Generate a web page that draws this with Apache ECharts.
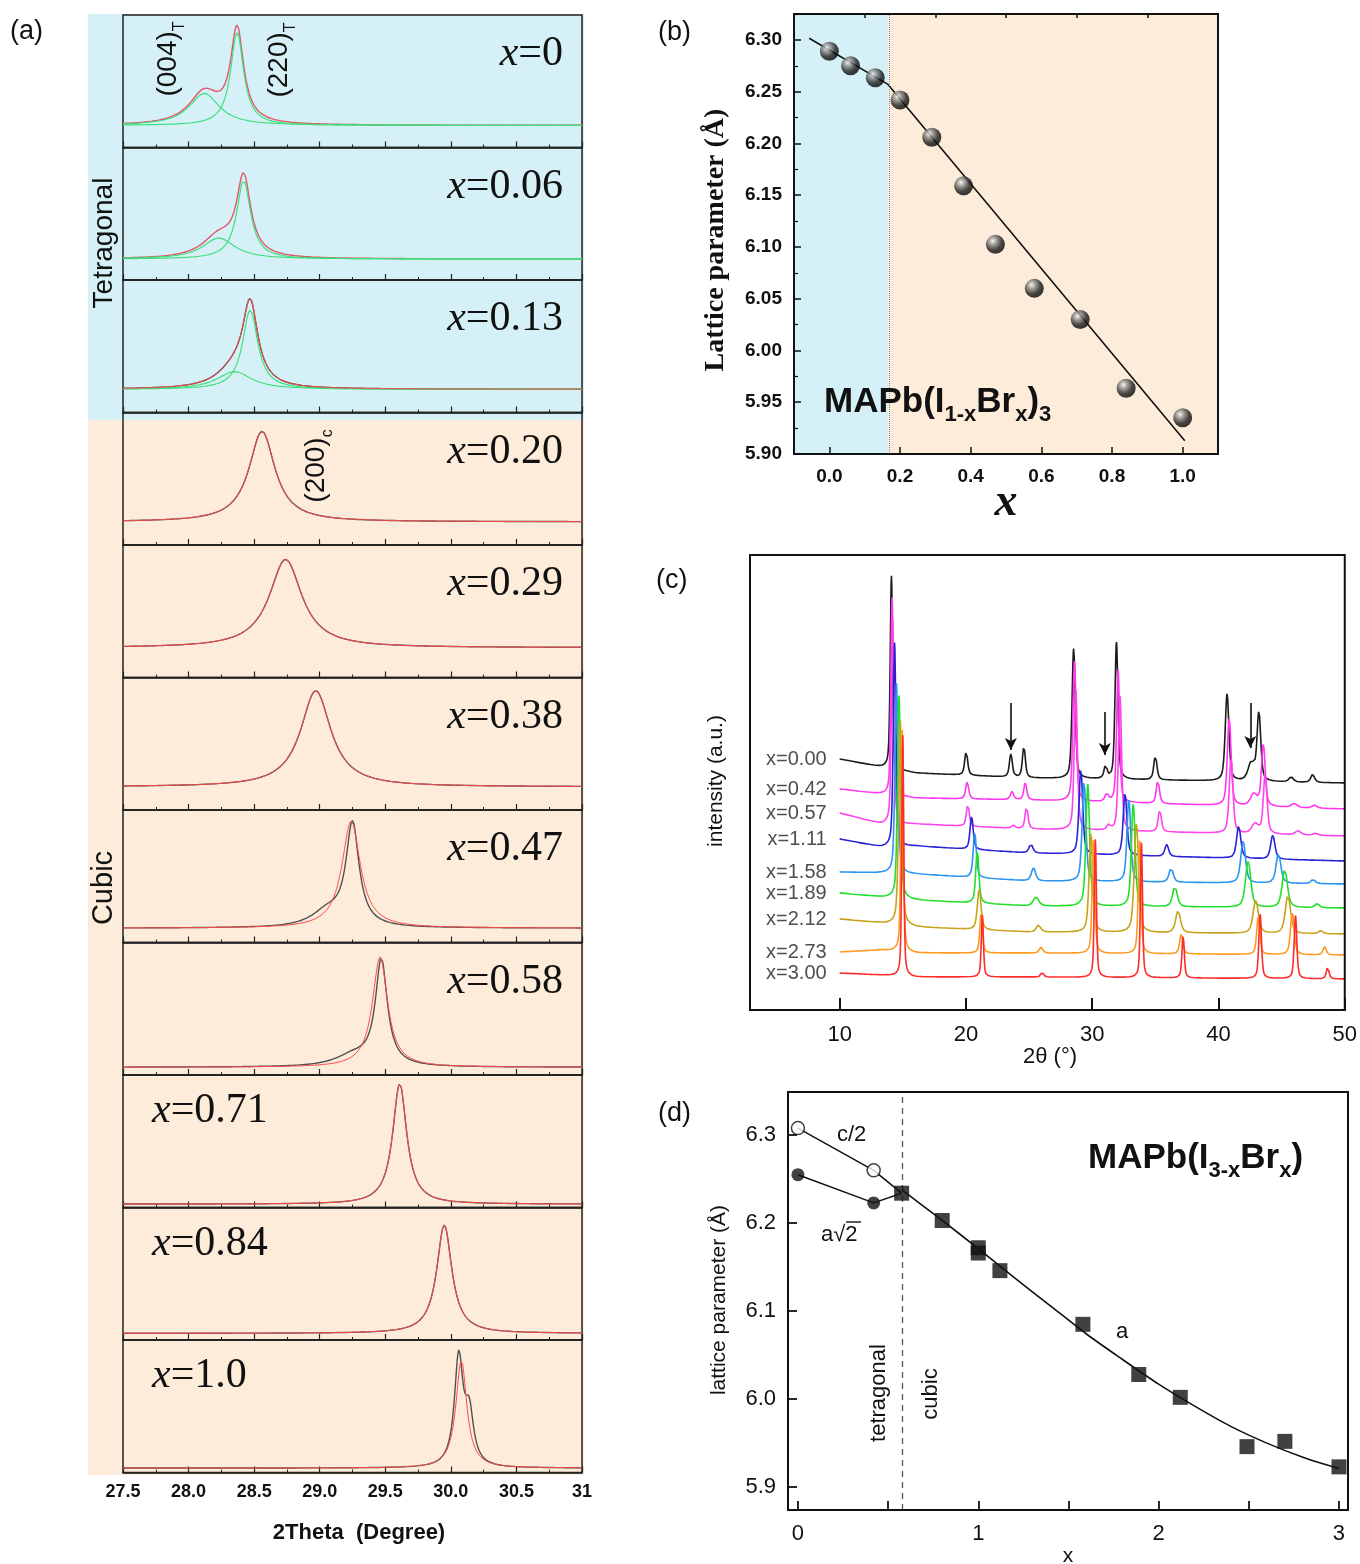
<!DOCTYPE html>
<html>
<head>
<meta charset="utf-8">
<script src="https://cdn.jsdelivr.net/npm/echarts@6/dist/echarts.min.js"></script>
<style>
  html, body { margin: 0; padding: 0; background: #ffffff; }
  #chart { width: 1360px; height: 1564px; }
</style>
</head>
<body>
<div id="chart"></div>
<script>
// ---------------- panel (a): (004)/(220) tetragonal and (200) cubic reflections ----------------
const compA = ['0', '0.06', '0.13', '0.20', '0.29', '0.38', '0.47', '0.58', '0.71', '0.84', '1.0'];
const thetaTicksA = [27.5, 28.0, 28.5, 29.0, 29.5, 30.0, 30.5, 31.0];
// background level of each pattern
const baseA = [0.0, -0.01, 0.01, 0.01, 0.07, 0.01, -0.07, -0.13, -0.17, -0.14, -0.16];
// Lorentzian fit components: [centre (deg), FWHM (deg), height]
const fitA = [
  [[28.12, 0.28, 0.29], [28.37, 0.12, 0.84]],
  [[28.23, 0.30, 0.19], [28.42, 0.13, 0.71]],
  [[28.35, 0.32, 0.16], [28.47, 0.14, 0.72]],
  [[28.56, 0.24, 0.82]],
  [[28.74, 0.30, 0.80]],
  [[28.97, 0.28, 0.87]],
  [[29.24, 0.17, 0.97]],
  [[29.46, 0.14, 1.00]],
  [[29.61, 0.13, 1.09]],
  [[29.95, 0.14, 0.98]],
  [[30.08, 0.10, 0.98]]
];
// measured profiles that differ from the single-peak fit (shoulders, Ka2)
const obsA = [null, null, null, null, null, null,
  [[29.06, 0.30, 0.14], [29.25, 0.12, 0.92]],
  [[29.26, 0.34, 0.10], [29.47, 0.11, 0.95]],
  null, null,
  [[30.06, 0.08, 0.98], [30.14, 0.08, 0.45]]
];

// ---------------- panel (b): lattice parameter vs x ----------------
const xB = [0, 0.06, 0.13, 0.20, 0.29, 0.38, 0.47, 0.58, 0.71, 0.84, 1.0];
const aB = [6.289, 6.275, 6.2635, 6.242, 6.206, 6.159, 6.1025, 6.060, 6.030, 5.9635, 5.935];
// linear trends in the tetragonal and cubic ranges, meeting at the phase edge
const fitLineB = [[-0.057, 6.3016], [0.166, 6.257], [1.006, 5.9128]];
const phaseEdgeB = 0.166;
const xTicksB = [0, 0.2, 0.4, 0.6, 0.8, 1.0];
const xMinorB = [0.1, 0.3, 0.5, 0.7, 0.9];

// ---------------- panel (c): powder patterns MAPb(I3-xBrx) ----------------
const compC = ['x=0.00', 'x=0.42', 'x=0.57', 'x=1.11', 'x=1.58', 'x=1.89', 'x=2.12', 'x=2.73', 'x=3.00'];
const xTicksC = [10, 20, 30, 40, 50];
// background (stacked offset) of each pattern at these angles
const bgAnglesC = [10, 13.3, 16, 25, 50];
const bgC = [
  [251, 243, 237, 232, 227],
  [221, 216, 212, 210, 201],
  [197, 186, 186, 181, 174],
  [171, 163, 164, 157, 149],
  [138, 137, 136, 129, 126],
  [117, 113, 110, 104, 102],
  [91, 87, 83, 78, 76],
  [58, 60, 57, 57, 55],
  [37, 35, 33, 33, 31]
];
// reflections: [2theta (deg), height, FWHM (deg)]
const peaksC = [
  [[14.10, 193, 0.22], [20.02, 24, 0.28], [23.56, 23, 0.28], [24.59, 31, 0.28], [28.53, 130, 0.30], [31.06, 13, 0.28], [31.92, 137, 0.28], [35.00, 24, 0.30], [40.68, 87, 0.35], [42.60, 18, 0.60], [43.20, 68, 0.35], [45.75, 5, 0.40], [47.46, 8, 0.35]],
  [[14.15, 198, 0.22], [20.10, 17, 0.28], [23.65, 8, 0.30], [24.70, 17, 0.28], [28.60, 140, 0.30], [31.15, 8, 0.30], [32.05, 133, 0.28], [35.20, 23, 0.30], [40.85, 88, 0.35], [42.80, 12, 0.60], [43.55, 62, 0.35], [46.00, 4, 0.50], [47.60, 3, 0.40]],
  [[14.20, 205, 0.24], [20.15, 22, 0.28], [23.75, 3, 0.30], [24.80, 22, 0.28], [28.70, 140, 0.30], [31.30, 5, 0.30], [32.20, 135, 0.30], [35.35, 22, 0.30], [41.00, 75, 0.35], [42.90, 10, 0.60], [43.70, 60, 0.35], [46.30, 4, 0.50], [47.70, 2, 0.40]],
  [[14.35, 204, 0.25], [20.45, 33, 0.30], [25.15, 9, 0.35], [29.10, 85, 0.35], [32.60, 62, 0.35], [35.90, 12, 0.35], [41.60, 32, 0.40], [44.30, 24, 0.40]],
  [[14.50, 190, 0.28], [20.70, 45, 0.30], [25.35, 13, 0.40], [29.35, 100, 0.35], [32.90, 83, 0.35], [36.25, 14, 0.40], [41.95, 42, 0.45], [44.75, 30, 0.45], [47.50, 4, 0.40]],
  [[14.70, 203, 0.28], [20.90, 52, 0.30], [25.55, 9, 0.50], [29.65, 122, 0.35], [33.25, 104, 0.35], [36.55, 20, 0.45], [42.35, 46, 0.50], [45.25, 38, 0.50], [47.80, 4, 0.40]],
  [[14.80, 205, 0.30], [21.05, 40, 0.35], [25.75, 7, 0.40], [29.90, 100, 0.35], [33.50, 110, 0.40], [36.80, 22, 0.45], [42.95, 33, 0.50], [45.50, 38, 0.50], [48.10, 3, 0.40]],
  [[14.95, 222, 0.22], [21.20, 40, 0.25], [25.95, 6, 0.30], [30.10, 113, 0.25], [33.75, 113, 0.25], [37.05, 20, 0.30], [43.15, 38, 0.30], [45.85, 42, 0.35], [48.40, 8, 0.30]],
  [[15.00, 241, 0.18], [21.30, 62, 0.20], [26.05, 5, 0.25], [30.25, 138, 0.20], [33.90, 135, 0.20], [37.20, 43, 0.22], [43.30, 64, 0.25], [46.10, 63, 0.25], [48.65, 12, 0.25]]
];
// impurity markers: [2theta, tail level, tip level]
const arrowsC = [[23.56, 307, 260], [31.00, 298, 255], [42.52, 307, 262]];

// ---------------- panel (d): lattice parameters, tetragonal/cubic ----------------
const xTet = [0, 0.42];
const halfC = [6.308, 6.260];     // c/2
const aRoot2 = [6.255, 6.223];    // a/sqrt2 (pseudo-cubic)
const xCubic = [0.575, 0.80, 1.0, 1.0, 1.12, 1.58, 1.89, 2.12, 2.49, 2.70, 3.0];
const aCubic = [6.234, 6.203, 6.172, 6.166, 6.146, 6.085, 6.028, 6.002, 5.946, 5.952, 5.923];
const curveX = [0.575, 0.8, 1.0, 1.2, 1.4, 1.6, 1.8, 2.0, 2.2, 2.4, 2.6, 2.8, 3.0];
const curveA = [6.238, 6.203, 6.171, 6.138, 6.106, 6.074, 6.045, 6.017, 5.992, 5.969, 5.950, 5.934, 5.921];
const phaseEdgeD = 0.58;
const xTicksD = [0, 1, 2, 3];
const xTickMarksD = [0, 0.5, 1, 1.5, 2, 2.5, 3];
const yTicksD = [5.9, 6.0, 6.1, 6.2, 6.3];

// ---------------- drawing ----------------
const SANS = '"Liberation Sans", Arial, sans-serif';
const SERIF = '"Liberation Serif", "Times New Roman", serif';
const BLUE = '#d5f1f7';
const PEACH = '#fdecda';

function lor(t, p) {
  const u = (t - p[0]) / (p[1] / 2);
  return p[2] / (1 + u * u);
}
function pv(t, p) {
  const u = (t - p[0]) / (p[2] / 2);
  const g = Math.exp(-Math.LN2 * u * u);
  return p[1] * (0.5 / (1 + u * u) + 0.5 * g);
}
function bgAt(row, t) {
  for (let k = 0; k < bgAnglesC.length - 1; k++) {
    const a0 = bgAnglesC[k], a1 = bgAnglesC[k + 1];
    if (t <= a1) return row[k] + (row[k + 1] - row[k]) * (t - a0) / (a1 - a0);
  }
  return row[row.length - 1];
}

const grids = [], xAxes = [], yAxes = [], series = [], graphics = [];

// panel (a) layout
const A_LEFT = 123, A_RIGHT = 582, A_TOP = 15, A_H = 132.5;
const thetaGrid = [];
for (let k = 0; k <= 700; k++) thetaGrid.push(27.5 + k * 0.005);

compA.forEach((c, i) => {
  grids.push({ left: A_LEFT, top: A_TOP + i * A_H, width: A_RIGHT - A_LEFT, height: A_H,
    show: true, borderColor: '#222', borderWidth: 1.5, backgroundColor: 'transparent', z: 3 });
  const last = i === compA.length - 1;
  xAxes.push({ gridIndex: i, type: 'value', min: 27.5, max: 31, interval: 0.5,
    axisLine: { show: true, onZero: false, lineStyle: { color: '#222', width: 1.5 } },
    axisTick: { show: true, inside: true, length: 6, lineStyle: { color: '#222', width: 1.2 } },
    minorTick: { show: true, splitNumber: 2, length: 3, lineStyle: { color: '#222', width: 1 } },
    splitLine: { show: false },
    axisLabel: { show: last, margin: 11, fontFamily: SANS, fontWeight: 'bold', fontSize: 18, color: '#111',
      showMinLabel: true, showMaxLabel: true,
      formatter: v => (Math.abs(v - 31) < 1e-6 ? '31' : v.toFixed(1)) } });
  yAxes.push({ gridIndex: i, type: 'value', min: -0.2, max: 1.0, show: false });

  const comps = fitA[i];
  const obs = obsA[i] || comps;
  const base = baseA[i];
  const dataLine = thetaGrid.map(t => [t, base + obs.reduce((s, p) => s + lor(t, p), 0)]);
  const fitLine = thetaGrid.map(t => [t, base + comps.reduce((s, p) => s + lor(t, p), 0)]);
  const dataColor = i < 2 ? '#e2566a' : '#505050';
  series.push({ type: 'line', xAxisIndex: i, yAxisIndex: i, data: dataLine, symbol: 'none',
    lineStyle: { color: dataColor, width: 1.4 }, z: 4, silent: true });
  if (comps.length > 1) {
    comps.forEach(p => series.push({ type: 'line', xAxisIndex: i, yAxisIndex: i,
      data: thetaGrid.map(t => [t, base + lor(t, p)]), symbol: 'none',
      lineStyle: { color: '#3fe07c', width: 1.2 }, z: 5, silent: true }));
  }
  if (i >= 2) {
    series.push({ type: 'line', xAxisIndex: i, yAxisIndex: i, data: fitLine, symbol: 'none',
      lineStyle: { color: '#ff4a4a', width: 1 }, z: 6, silent: true });
  }
});

// panel (b)
const gB = grids.length;
grids.push({ left: 794, top: 14, width: 424, height: 440, show: true, borderColor: '#111', borderWidth: 2,
  backgroundColor: 'transparent', z: 10 });
const xB0 = xAxes.length;
xAxes.push({ gridIndex: gB, type: 'value', min: -0.1, max: 1.1,
  axisLine: { show: true, onZero: false, lineStyle: { color: '#111', width: 2 } },
  axisTick: { show: true, inside: true, length: 7, customValues: xTicksB, lineStyle: { color: '#111', width: 1.5 } },
  axisLabel: { show: true, customValues: xTicksB, margin: 13, fontFamily: SANS, fontWeight: 'bold', fontSize: 19, color: '#111',
    formatter: v => v.toFixed(1) },
  splitLine: { show: false }, z: 11 });
xAxes.push({ gridIndex: gB, type: 'value', min: -0.1, max: 1.1,
  axisLine: { show: false, onZero: false },
  axisTick: { show: true, inside: true, length: 4, customValues: xMinorB, lineStyle: { color: '#111', width: 1.5 } },
  axisLabel: { show: false }, splitLine: { show: false }, z: 11 });
const yB0 = yAxes.length;
yAxes.push({ gridIndex: gB, type: 'value', min: 5.90, max: 6.325, interval: 0.05,
  axisLine: { show: true, onZero: false, lineStyle: { color: '#111', width: 2 } },
  axisTick: { show: true, inside: true, length: 7, lineStyle: { color: '#111', width: 1.5 } },
  minorTick: { show: true, splitNumber: 2, length: 4, lineStyle: { color: '#111', width: 1.2 } },
  axisLabel: { margin: 12, fontFamily: SANS, fontWeight: 'bold', fontSize: 19, color: '#111',
    showMaxLabel: false, formatter: v => (v > 6.31 ? '' : v.toFixed(2)) },
  splitLine: { show: false }, z: 11 });
series.push({ type: 'line', xAxisIndex: xB0, yAxisIndex: yB0, data: fitLineB, symbol: 'none',
  lineStyle: { color: '#111', width: 1.6 }, z: 4, silent: true,
  markArea: { silent: true, data: [
    [{ xAxis: -0.1, itemStyle: { color: BLUE } }, { xAxis: phaseEdgeB }],
    [{ xAxis: phaseEdgeB, itemStyle: { color: PEACH } }, { xAxis: 1.1 }]
  ] },
  markLine: { silent: true, symbol: 'none', label: { show: false },
    lineStyle: { color: '#6d8fa0', type: 'dotted', width: 1 },
    data: [{ xAxis: phaseEdgeB }] } });
series.push({ type: 'scatter', xAxisIndex: xB0, yAxisIndex: yB0, data: xB.map((x, k) => [x, aB[k]]),
  symbol: 'circle', symbolSize: 19, z: 6, silent: true,
  itemStyle: { color: { type: 'radial', x: 0.36, y: 0.32, r: 0.72, colorStops: [
    { offset: 0, color: '#f6f6f6' }, { offset: 0.28, color: '#8c8c8c' },
    { offset: 0.65, color: '#1d1d1d' }, { offset: 1, color: '#000' }] } } });

// panel (c)
const gC = grids.length;
grids.push({ left: 750, top: 555, width: 597, height: 455, show: true, borderColor: '#111', borderWidth: 2,
  backgroundColor: 'transparent', z: 10 });
const xC0 = xAxes.length;
xAxes.push({ gridIndex: gC, type: 'value', min: 2.9, max: 50,
  axisLine: { show: true, onZero: false, lineStyle: { color: '#111', width: 2 } },
  axisTick: { show: true, inside: true, length: 12, customValues: xTicksC, lineStyle: { color: '#111', width: 2 } },
  axisLabel: { customValues: xTicksC, margin: 14, fontFamily: SANS, fontSize: 22, color: '#111' },
  splitLine: { show: false } });
const yC0 = yAxes.length;
yAxes.push({ gridIndex: gC, type: 'value', min: 0, max: 455, show: false });
const colorsC = ['#1c1c1c', '#ff38ee', '#ff44ee', '#2a22d6', '#2a95f0', '#22e02a', '#c9a31c', '#ff9a1e', '#ff2c2c'];
const angleGrid = [];
for (let k = 0; k <= 1600; k++) angleGrid.push(10 + k * 0.025);
compC.forEach((name, i) => {
  const pts = angleGrid.map(t => [t, bgAt(bgC[i], t) + peaksC[i].reduce((s, p) => s + pv(t, p), 0)]);
  const s = { type: 'line', xAxisIndex: xC0, yAxisIndex: yC0, data: pts, symbol: 'none',
    lineStyle: { color: colorsC[i], width: 1.6 }, z: 4 + i * 0.01, silent: true };
  if (i === 0) {
    s.markLine = { silent: true, symbol: ['none', 'arrow'], symbolSize: [9, 12], label: { show: false },
      lineStyle: { color: '#111', width: 1.6, type: 'solid' },
      data: arrowsC.map(a => [{ coord: [a[0], a[1]] }, { coord: [a[0], a[2]] }]) };
  }
  series.push(s);
});
series.push({ type: 'scatter', xAxisIndex: xC0, yAxisIndex: yC0, symbolSize: 0, silent: true,
  data: compC.map((n, i) => ({ value: [10, bgC[i][0]], name: n })),
  label: { show: true, position: 'left', distance: 13, formatter: p => p.name,
    fontFamily: SANS, fontSize: 20, color: '#222' } });

// panel (d)
const gD = grids.length;
grids.push({ left: 788, top: 1092, width: 560, height: 418, show: true, borderColor: '#111', borderWidth: 2,
  backgroundColor: 'transparent', z: 10 });
const xD0 = xAxes.length;
xAxes.push({ gridIndex: gD, type: 'value', min: -0.055, max: 3.05,
  axisLine: { show: true, onZero: false, lineStyle: { color: '#111', width: 2 } },
  axisTick: { show: true, inside: true, length: 9, customValues: xTickMarksD, lineStyle: { color: '#111', width: 1.8 } },
  axisLabel: { customValues: xTicksD, margin: 13, fontFamily: SANS, fontSize: 22, color: '#111' },
  splitLine: { show: false } });
const yD0 = yAxes.length;
yAxes.push({ gridIndex: gD, type: 'value', min: 5.874, max: 6.349,
  axisLine: { show: true, onZero: false, lineStyle: { color: '#111', width: 2 } },
  axisTick: { show: true, inside: true, length: 9, customValues: yTicksD, lineStyle: { color: '#111', width: 1.8 } },
  axisLabel: { customValues: yTicksD, margin: 12, fontFamily: SANS, fontSize: 22, color: '#111',
    formatter: v => v.toFixed(1) },
  splitLine: { show: false } });
const junction = [xCubic[0], aCubic[0]];
series.push({ type: 'line', xAxisIndex: xD0, yAxisIndex: yD0, symbol: 'none', silent: true, z: 4,
  data: xTet.map((x, k) => [x, halfC[k]]).concat([junction]), lineStyle: { color: '#111', width: 1.5 },
  markLine: { silent: true, symbol: 'none', label: { show: false },
    lineStyle: { color: '#555', type: [6, 5], width: 1.3 }, data: [{ xAxis: phaseEdgeD }] } });
series.push({ type: 'line', xAxisIndex: xD0, yAxisIndex: yD0, symbol: 'none', silent: true, z: 4,
  data: xTet.map((x, k) => [x, aRoot2[k]]).concat([junction]), lineStyle: { color: '#111', width: 1.5 } });
series.push({ type: 'line', xAxisIndex: xD0, yAxisIndex: yD0, symbol: 'none', silent: true, z: 4, smooth: 0.3,
  data: curveX.map((x, k) => [x, curveA[k]]), lineStyle: { color: '#111', width: 1.6 } });
series.push({ type: 'scatter', xAxisIndex: xD0, yAxisIndex: yD0, silent: true, z: 6, symbol: 'circle', symbolSize: 13,
  data: xTet.map((x, k) => [x, halfC[k]]), itemStyle: { color: '#fff', borderColor: '#111', borderWidth: 1.5 } });
series.push({ type: 'scatter', xAxisIndex: xD0, yAxisIndex: yD0, silent: true, z: 6, symbol: 'circle', symbolSize: 13,
  data: xTet.map((x, k) => [x, aRoot2[k]]), itemStyle: { color: '#111' } });
series.push({ type: 'scatter', xAxisIndex: xD0, yAxisIndex: yD0, silent: true, z: 6, symbol: 'rect', symbolSize: 15,
  data: xCubic.map((x, k) => [x, aCubic[k]]), itemStyle: { color: '#111' } });

// backgrounds and text of panel (a)
graphics.push({ type: 'rect', z: -100, silent: true, shape: { x: 88, y: 14, width: 496, height: 406 }, style: { fill: BLUE } });
graphics.push({ type: 'rect', z: -100, silent: true, shape: { x: 88, y: 420, width: 496, height: 1055 }, style: { fill: PEACH } });

function txt(x, y, text, font, opts) {
  const o = Object.assign({ align: 'left', vAlign: 'middle', rotation: 0, fill: '#111', rich: null }, opts || {});
  const style = { text: text, font: font, fill: o.fill, align: o.align, verticalAlign: o.vAlign };
  if (o.rich) style.rich = o.rich;
  graphics.push({ type: 'text', x: x, y: y, rotation: o.rotation, z: 100, silent: true, style: style });
}

txt(10, 32, '(a)', '27px ' + SANS);
txt(104, 243, 'Tetragonal', '28px ' + SANS, { align: 'center', rotation: Math.PI / 2 });
txt(104, 888, 'Cubic', '29px ' + SANS, { align: 'center', rotation: Math.PI / 2 });

const subRich = (big, small, weight) => ({
  n: { fontFamily: SANS, fontSize: big, fontWeight: weight, lineHeight: Math.round(big * 1.38), fill: '#111' },
  s: { fontFamily: SANS, fontSize: small, fontWeight: weight, lineHeight: small, verticalAlign: 'bottom', fill: '#111' }
});
txt(168, 59, '{n|(004)}{s|T}', '', { align: 'center', rotation: Math.PI / 2, rich: subRich(28, 16, 'normal') });
txt(279, 60, '{n|(220)}{s|T}', '', { align: 'center', rotation: Math.PI / 2, rich: subRich(28, 16, 'normal') });
txt(316, 466, '{n|(200)}{s|c}', '', { align: 'center', rotation: Math.PI / 2, rich: subRich(28, 16, 'normal') });

const xRich = {
  i: { fontFamily: SERIF, fontStyle: 'italic', fontSize: 42, fill: '#111' },
  n: { fontFamily: SERIF, fontSize: 42, fill: '#111' }
};
compA.forEach((c, i) => {
  const top = A_TOP + i * A_H;
  if (i < 8) txt(563, top + 39, '{i|x}{n|=' + c + '}', '', { align: 'right', rich: xRich });
  else txt(152, top + 36, '{i|x}{n|=' + c + '}', '', { align: 'left', rich: xRich });
});
txt(359, 1533, '2Theta  (Degree)', 'bold 22px ' + SANS, { align: 'center' });

// panel (b) text
txt(658, 33, '(b)', '27px ' + SANS);
txt(716, 240, 'Lattice parameter (Å)', 'bold 28px ' + SERIF, { align: 'center', rotation: Math.PI / 2 });
txt(1006, 503, 'x', 'italic bold 46px ' + SERIF, { align: 'center' });
txt(824, 402, '{n|MAPb(I}{s|1-x}{n|Br}{s|x}{n|)}{s|3}', '', { rich: subRich(35, 22, 'bold') });

// panel (c) text
txt(656, 581, '(c)', '27px ' + SANS);
txt(716, 781, 'intensity (a.u.)', '21px ' + SANS, { align: 'center', rotation: Math.PI / 2 });
txt(1050, 1057, '2θ (°)', '22px ' + SANS, { align: 'center' });

// panel (d) text
txt(658, 1114, '(d)', '27px ' + SANS);
txt(719, 1300, 'lattice parameter (Å)', '21px ' + SANS, { align: 'center', rotation: Math.PI / 2 });
txt(1068, 1556, 'x', '21px ' + SANS, { align: 'center' });
txt(837, 1135, 'c/2', '22px ' + SANS);
txt(821, 1235, 'a√2', '22px ' + SANS);
graphics.push({ type: 'line', z: 100, silent: true, shape: { x1: 846, y1: 1222, x2: 861, y2: 1222 }, style: { stroke: '#111', lineWidth: 1.4 } });
txt(1122, 1332, 'a', '22px ' + SANS, { align: 'center' });
txt(879, 1393, 'tetragonal', '22px ' + SANS, { align: 'center', rotation: Math.PI / 2 });
txt(931, 1394, 'cubic', '22px ' + SANS, { align: 'center', rotation: Math.PI / 2 });
txt(1088, 1158, '{n|MAPb(I}{s|3-x}{n|Br}{s|x}{n|)}', '', { rich: subRich(35, 22, 'bold') });

const chart = echarts.init(document.getElementById('chart'), null, { renderer: 'canvas', width: 1360, height: 1564 });
chart.setOption({
  animation: false,
  backgroundColor: '#ffffff',
  grid: grids,
  xAxis: xAxes,
  yAxis: yAxes,
  series: series,
  graphic: { elements: graphics }
});
</script>
</body>
</html>
